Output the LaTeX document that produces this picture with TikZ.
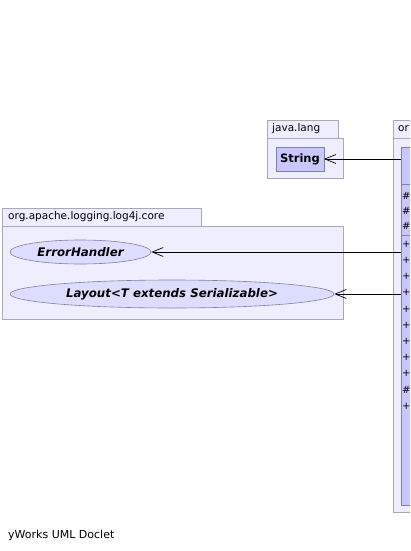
\documentclass[tikz,border=0pt]{standalone}
\usepackage{fontspec}
\setmainfont{DejaVu Sans}
\usetikzlibrary{arrows.meta,shapes.geometric}
\definecolor{pkgfill}{HTML}{EEEEFF}
\definecolor{pkgline}{HTML}{A8A8B8}
\definecolor{clsfill}{HTML}{C8C8FF}
\definecolor{clsline}{HTML}{8080A0}
\definecolor{ifcfill}{HTML}{DDDDFF}
\tikzset{
  pkg/.style={draw=pkgline,fill=pkgfill,line width=.8pt},
  cls/.style={draw=clsline,fill=clsfill,line width=.8pt},
  ifc/.style={ellipse,draw=clsline,fill=ifcfill,line width=.6pt,inner sep=0pt,
    font=\fontsize{11.8}{13}\selectfont\bfseries\itshape},
  pkglabel/.style={anchor=west,inner sep=0pt,font=\fontsize{10.5}{12}\selectfont},
  member/.style={anchor=west,inner sep=0pt,font=\fontsize{10}{12}\selectfont},
  dep/.style={-{Straight Barb[length=11pt,width=9pt]},line width=.7pt}
}
\begin{document}
\begin{tikzpicture}[x=1pt,y=-1pt]
  \useasboundingbox(0,0) rectangle (410,551);
  \clip(0,0) rectangle (410,551);
  % java.lang
  \draw[pkg](267,120) rectangle (338,138);
  \draw[pkg](267,138) rectangle (343,178);
  \node[pkglabel] (javalang) at (272,129) {java.lang};
  \draw[cls](276,147) rectangle (324,171);
  \node[inner sep=0pt,font=\fontsize{11.5}{13}\selectfont\bfseries] (string) at (300,159) {String};
  \coordinate (stringE) at (324,159);
  % org.apache.logging.log4j.core
  \draw[pkg](2,208) rectangle (201,226);
  \draw[pkg](2,226) rectangle (343,319);
  \node[pkglabel] (corepkg) at (8,217) {org.apache.logging.log4j.core};
  \node[ifc,minimum width=141pt,minimum height=24pt] (handler) at (80.5,252) {ErrorHandler};
  \node[ifc,minimum width=324pt,minimum height=28pt] (layout) at (172,294) {Layout<T extends Serializable>};
  % right package with the class
  \draw[pkg](393,120) rectangle (460,138);
  \draw[pkg](393,138) rectangle (460,512);
  \node[pkglabel] (rightpkg) at (398,129) {or};
  \draw[cls](401,147) rectangle (460,505);
  \draw[clsline,line width=.8pt](401,184) -- (460,184);
  \draw[clsline,line width=.8pt](401,235) -- (460,235);
  \foreach \y in {196,211,226,390}
    \node[member] at (402,\y) {\#};
  \foreach \y in {244,260,276,292,309,325,341,357,373,406}
    \node[member] at (402,\y) {+};
  \coordinate (c1) at (401,159);
  \coordinate (c2) at (401,252);
  \coordinate (c3) at (401,294);
  % dependencies
  \draw[dep](c1) -- (stringE);
  \draw[dep](c2) -- (handler.east);
  \draw[dep](c3) -- (layout.east);
  \node[anchor=west,inner sep=0pt,font=\fontsize{11}{13}\selectfont] (doclet) at (8,535) {yWorks UML Doclet};
\end{tikzpicture}
\end{document}
